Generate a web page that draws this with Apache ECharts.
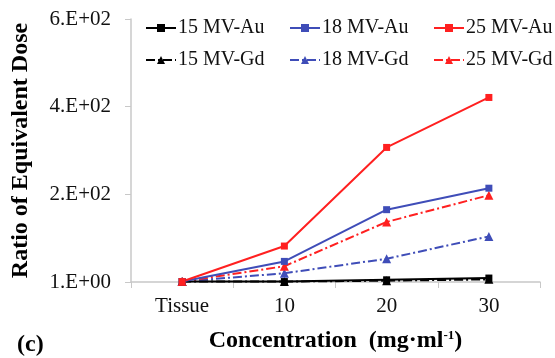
<!DOCTYPE html>
<html>
<head>
<meta charset="utf-8">
<script src="https://cdn.jsdelivr.net/npm/echarts@6/dist/echarts.min.js"></script>
<style>
  html, body { margin: 0; padding: 0; background: #fff; }
  #chart { width: 555px; height: 358px; }
</style>
</head>
<body>
<div id="chart"></div>
<script>
// Categories and values
const categories = ['Tissue', '10', '20', '30'];
const yTickLabels = ['1.E+00', '2.E+02', '4.E+02', '6.E+02'];

const au15 = [1, 1, 5, 9];
const au18 = [1, 47, 165, 214];
const au25 = [1, 82, 307, 421];
const gd15 = [1, 1, 3, 6];
const gd18 = [1, 20, 53, 104];
const gd25 = [1, 36, 137, 198];

const BLACK = '#000000';
const BLUE = '#3f4db8';
const RED = '#ff2020';
const SERIF = '"Liberation Serif", "DejaVu Serif", serif';

const chart = echarts.init(document.getElementById('chart'));

const mkSeries = (name, data, color, gd) => ({
  name: name,
  type: 'line',
  data: data,
  symbol: gd ? 'triangle' : 'rect',
  symbolSize: gd ? 9 : 7,
  itemStyle: { color: color },
  lineStyle: { color: color, width: 2, type: gd ? [9, 3, 2, 3] : 'solid' },
  emphasis: { disabled: true },
  z: gd ? 2 : 3,
});

const legendBase = {
  orient: 'vertical',
  top: 13,
  itemWidth: 30,
  itemHeight: 10,
  itemGap: 12,
  textStyle: { fontFamily: SERIF, fontSize: 20, color: '#111', padding: [0, 0, 0, -3] },
};

chart.setOption({
  animation: false,
  title: {
    text: '(c)',
    left: 12,
    top: 328,
    textStyle: { fontFamily: SERIF, fontSize: 24, fontWeight: 'bold', color: '#000' },
  },
  legend: [
    Object.assign({}, legendBase, { left: 140, data: ['15 MV-Au', '15 MV-Gd'] }),
    Object.assign({}, legendBase, { left: 284, data: ['18 MV-Au', '18 MV-Gd'] }),
    Object.assign({}, legendBase, { left: 428, data: ['25 MV-Au', '25 MV-Gd'] }),
  ],
  grid: { left: 131, right: 15, top: 19, bottom: 74 },
  xAxis: {
    type: 'category',
    data: categories,
    boundaryGap: true,
    axisLine: { lineStyle: { color: '#c8c8c8', width: 1.5 } },
    axisTick: { show: true, length: 6, lineStyle: { color: '#c8c8c8' } },
    axisLabel: { fontFamily: SERIF, fontSize: 21, color: '#111', margin: 14 },
    name: '{t|Concentration  (mg·ml}{s|-1}{t|)}',
    nameLocation: 'middle',
    nameGap: 47,
    nameTextStyle: {
      rich: {
        t: { fontFamily: SERIF, fontSize: 24, fontWeight: 'bold', color: '#000' },
        s: { fontFamily: SERIF, fontSize: 13, fontWeight: 'bold', color: '#000', verticalAlign: 'top', padding: [0, 0, 10, 0] },
      },
    },
  },
  yAxis: {
    type: 'value',
    min: 0,
    max: 600,
    interval: 200,
    splitLine: { show: false },
    axisLine: { show: true, lineStyle: { color: '#c8c8c8', width: 1.5 } },
    axisTick: { show: true, length: 6, lineStyle: { color: '#c8c8c8' } },
    axisLabel: {
      fontFamily: SERIF,
      fontSize: 21,
      color: '#111',
      margin: 20,
      formatter: (v) => yTickLabels[Math.round(v / 200)],
    },
    name: 'Ratio of Equivalent Dose',
    nameLocation: 'middle',
    nameGap: 98,
    nameTextStyle: { fontFamily: SERIF, fontSize: 24, fontWeight: 'bold', color: '#000' },
  },
  series: [
    mkSeries('15 MV-Au', au15, BLACK, false),
    mkSeries('18 MV-Au', au18, BLUE, false),
    mkSeries('25 MV-Au', au25, RED, false),
    mkSeries('15 MV-Gd', gd15, BLACK, true),
    mkSeries('18 MV-Gd', gd18, BLUE, true),
    mkSeries('25 MV-Gd', gd25, RED, true),
  ],
});
</script>
</body>
</html>
